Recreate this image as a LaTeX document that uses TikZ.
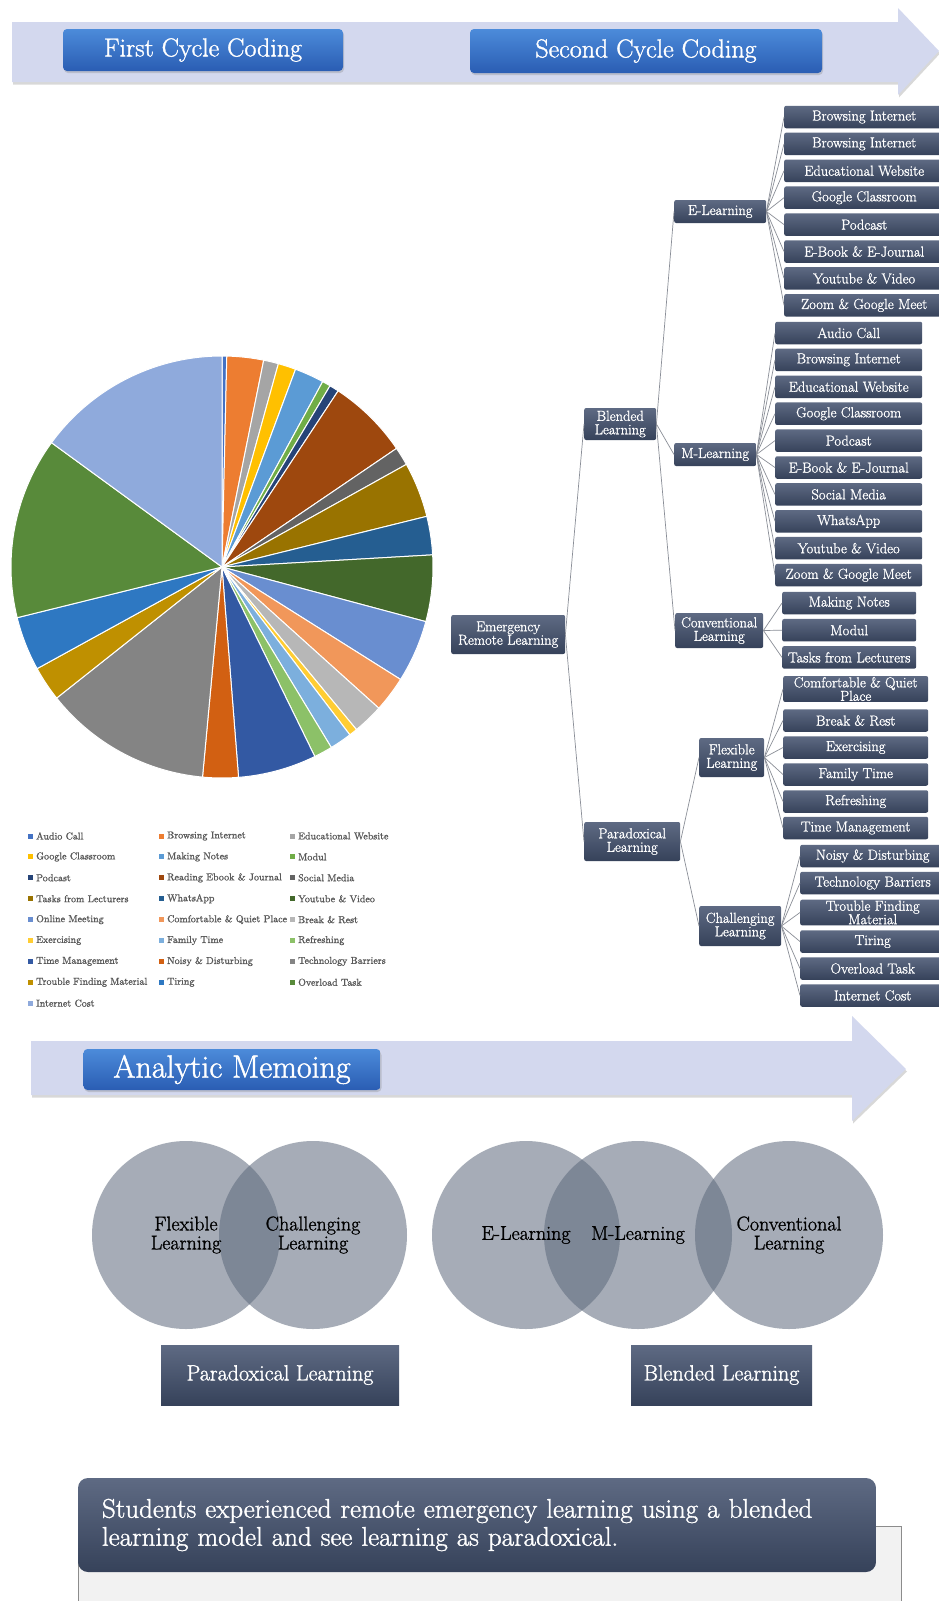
\documentclass[tikz,border=0pt]{standalone}
\usepackage{fontspec}
\setmainfont{Latin Modern Roman}[RawFeature={embolden=1.3}]
\usepackage{tikz}
\usetikzlibrary{shadows}

\definecolor{band}{HTML}{D3D8EE}
\definecolor{bluetop}{HTML}{4C8BDA}
\definecolor{bluebot}{HTML}{2A5DB3}
\definecolor{slatetop}{HTML}{5E6A83}
\definecolor{slatebot}{HTML}{36425A}
\definecolor{linkgrey}{HTML}{8A8E97}
\definecolor{venngrey}{HTML}{5D697C}
\definecolor{pie1}{HTML}{4472C4}
\definecolor{pie2}{HTML}{ED7D31}
\definecolor{pie3}{HTML}{A5A5A5}
\definecolor{pie4}{HTML}{FFC000}
\definecolor{pie5}{HTML}{5B9BD5}
\definecolor{pie6}{HTML}{70AD47}
\definecolor{pie7}{HTML}{264478}
\definecolor{pie8}{HTML}{9E480E}
\definecolor{pie9}{HTML}{636363}
\definecolor{pie10}{HTML}{997300}
\definecolor{pie11}{HTML}{255E91}
\definecolor{pie12}{HTML}{43682B}
\definecolor{pie13}{HTML}{698ED0}
\definecolor{pie14}{HTML}{F1975A}
\definecolor{pie15}{HTML}{B7B7B7}
\definecolor{pie16}{HTML}{FFCD33}
\definecolor{pie17}{HTML}{7CAFDD}
\definecolor{pie18}{HTML}{8CC168}
\definecolor{pie19}{HTML}{3359A3}
\definecolor{pie20}{HTML}{D26012}
\definecolor{pie21}{HTML}{848484}
\definecolor{pie22}{HTML}{BF9000}
\definecolor{pie23}{HTML}{2E78C2}
\definecolor{pie24}{HTML}{588A3A}
\definecolor{pie25}{HTML}{8FAADC}

\tikzset{
  stage/.style={rounded corners=4pt, top color=bluetop, bottom color=bluebot, text=white,
    drop shadow={shadow xshift=1pt, shadow yshift=-2pt, opacity=.3}},
  box/.style={rounded corners=2pt, top color=slatetop, bottom color=slatebot, text=white,
    align=center, inner sep=1pt, font=\fontsize{14.5}{13.5}\selectfont},
  leaf/.style={box, anchor=west, minimum height=22.5},
  link/.style={draw=linkgrey, line width=.7pt},
  venn/.style={circle, minimum size=188, fill=venngrey, fill opacity=.55, inner sep=0pt},
  venntext/.style={align=center, font=\fontsize{20}{19}\selectfont},
  legtext/.style={anchor=west, text=black!65, inner sep=0pt, font=\fontsize{10}{10}\selectfont},
  result/.style={top color=slatetop, bottom color=slatebot, text=white, minimum height=60,
    font=\fontsize{22}{22}\selectfont},
  band arrow/.style={fill=band, drop shadow={shadow xshift=1pt, shadow yshift=-2.5pt, opacity=.3}}
}

\begin{document}
\begin{tikzpicture}[x=1pt,y=1pt]
\useasboundingbox (0,0) rectangle (939,-1601);
\fill[white] (0,0) rectangle (939,-1601);

% coding stages
\fill[band arrow] (12,-22) -- (898,-22) -- (898,-8) -- (939,-51) -- (898,-95) -- (898,-82) -- (12,-82) -- cycle;
\node[stage, minimum width=280, minimum height=42, font=\fontsize{26}{26}\selectfont] (first) at (203,-50) {First Cycle Coding};
\node[stage, minimum width=352, minimum height=44, font=\fontsize{26}{26}\selectfont] (second) at (646,-51) {Second Cycle Coding};

% pie of codes
\coordinate (pc) at (222,-567);
\foreach \e [count=\k, remember=\e as \s (initially 0)] in {1.3,11.4,15.5,20.4,28.5,30.8,33.4,55.8,60.9,76.1,86.7,105,122.2,132,140.4,142.7,148.8,153.9,175.5,185.3,231.6,241.2,256.1,306.1,360}
  \filldraw[fill=pie\k, draw=white, line width=1pt] (pc) -- ++({90-\s}:211) arc[start angle={90-\s}, end angle={90-\e}, radius=211] -- cycle;

\foreach \t [count=\k] in {Audio Call, Browsing Internet, Educational Website, Google Classroom, Making Notes, Modul, Podcast, Reading Ebook \& Journal, Social Media, Tasks from Lecturers, WhatsApp, Youtube \& Video, Online Meeting, Comfortable \& Quiet Place, Break \& Rest, Exercising, Family Time, Refreshing, Time Management, Noisy \& Disturbing, Technology Barriers, Trouble Finding Material, Tiring, Overload Task, Internet Cost} {
  \pgfmathtruncatemacro\cl{mod(\k-1,3)}
  \pgfmathtruncatemacro\rw{(\k-1)/3}
  \fill[pie\k] ({28+131*\cl},{-838.5-20.9*\rw}) rectangle ++(5,5);
  \node[legtext] (lg\k) at ({36+131*\cl},{-836-20.9*\rw}) {\t};
}

% tree
\node[box, anchor=west, minimum width=114, minimum height=39] (erl) at (451,-634.5) {Emergency\\Remote Learning};
\node[box, anchor=west, minimum width=72, minimum height=32] (bl) at (584,-424) {Blended\\Learning};
\node[box, anchor=west, minimum width=96, minimum height=39] (pl) at (584,-841.5) {Paradoxical\\Learning};
\node[box, anchor=west, minimum width=92, minimum height=23] (el) at (674,-211.5) {E-Learning};
\node[box, anchor=west, minimum width=82, minimum height=23] (ml) at (674,-454.5) {M-Learning};
\node[box, anchor=west, minimum width=88, minimum height=35] (cl) at (675,-630.5) {Conventional\\Learning};
\node[box, anchor=west, minimum width=65, minimum height=39] (fl) at (699,-757.5) {Flexible\\Learning};
\node[box, anchor=west, minimum width=82, minimum height=40] (ch) at (699,-926) {Challenging\\Learning};

\draw[link] (erl.east) -- (bl.west);
\draw[link] (erl.east) -- (pl.west);
\draw[link] (bl.east) -- (el.west);
\draw[link] (bl.east) -- (ml.west);
\draw[link] (bl.east) -- (cl.west);
\draw[link] (pl.east) -- (fl.west);
\draw[link] (pl.east) -- (ch.west);

\foreach \t [count=\k] in {Browsing Internet, Browsing Internet, Educational Website, Google Classroom, Podcast, E-Book \& E-Journal, Youtube \& Video, Zoom \& Google Meet} {
  \node[leaf, minimum width=160] (el\k) at (784,{-117-26.9*(\k-1)}) {\t};
  \draw[link] (el.east) -- (el\k.west);
}
\foreach \t [count=\k] in {Audio Call, Browsing Internet, Educational Website, Google Classroom, Podcast, E-Book \& E-Journal, Social Media, WhatsApp, Youtube \& Video, Zoom \& Google Meet} {
  \node[leaf, minimum width=147] (ml\k) at (775,{-333-26.9*(\k-1)}) {\t};
  \draw[link] (ml.east) -- (ml\k.west);
}
\foreach \t [count=\k] in {Making Notes, Modul, Tasks from Lecturers} {
  \node[leaf, minimum width=134] (cl\k) at (782,{-603-27.2*(\k-1)}) {\t};
  \draw[link] (cl.east) -- (cl\k.west);
}
\foreach \t/\y [count=\k] in {Comfortable \& Quiet\\Place/689, Break \& Rest/720.5, Exercising/747.5, Family Time/774.5, Refreshing/801.5, Time Management/828} {
  \node[leaf, minimum width=145] (fl\k) at (783,-\y) {\t};
  \draw[link] (fl.east) -- (fl\k.west);
}
\foreach \t/\y [count=\k] in {Noisy \& Disturbing/856, Technology Barriers/883, Trouble Finding\\Material/912.5, Tiring/941.5, Overload Task/968.5, Internet Cost/995.5} {
  \node[leaf, minimum width=145] (ch\k) at (800,-\y) {\t};
  \draw[link] (ch.east) -- (ch\k.west);
}

% analytic memoing
\fill[band arrow] (31,-1041) -- (852,-1041) -- (852,-1016) -- (906,-1069) -- (852,-1121) -- (852,-1095) -- (31,-1095) -- cycle;
\node[stage, minimum width=297, minimum height=41, font=\fontsize{32}{32}\selectfont] (memo) at (232,-1069.5) {Analytic Memoing};

\node[venn] (vf) at (186,-1235) {};
\node[venn] (vc) at (313,-1235) {};
\node[venn] (ve) at (526,-1235) {};
\node[venn] (vm) at (638,-1235) {};
\node[venn] (vo) at (789,-1235) {};
\node[venntext] (tf) at (vf) {Flexible\\Learning};
\node[venntext] (tc) at (vc) {Challenging\\Learning};
\node[venntext] (te) at (ve) {E-Learning};
\node[venntext] (tm) at (vm) {M-Learning};
\node[venntext] (to) at (vo) {Conventional\\Learning};

\node[result, minimum width=238] (pr) at (280,-1375) {Paradoxical Learning};
\node[result, minimum width=181] (br) at (721.5,-1375) {Blended Learning};

\filldraw[fill=black!5, draw=black!45] (78,-1526) rectangle (901,-1612);
\node[rounded corners=10pt, top color=slatetop, bottom color=slatebot, text=white,
  minimum width=798, minimum height=94, text width=750, inner xsep=24, align=left,
  font=\fontsize{27}{28}\selectfont] (sum) at (477,-1525)
  {Students experienced remote emergency learning using a blended\\learning model and see learning as paradoxical.};
\end{tikzpicture}
\end{document}
